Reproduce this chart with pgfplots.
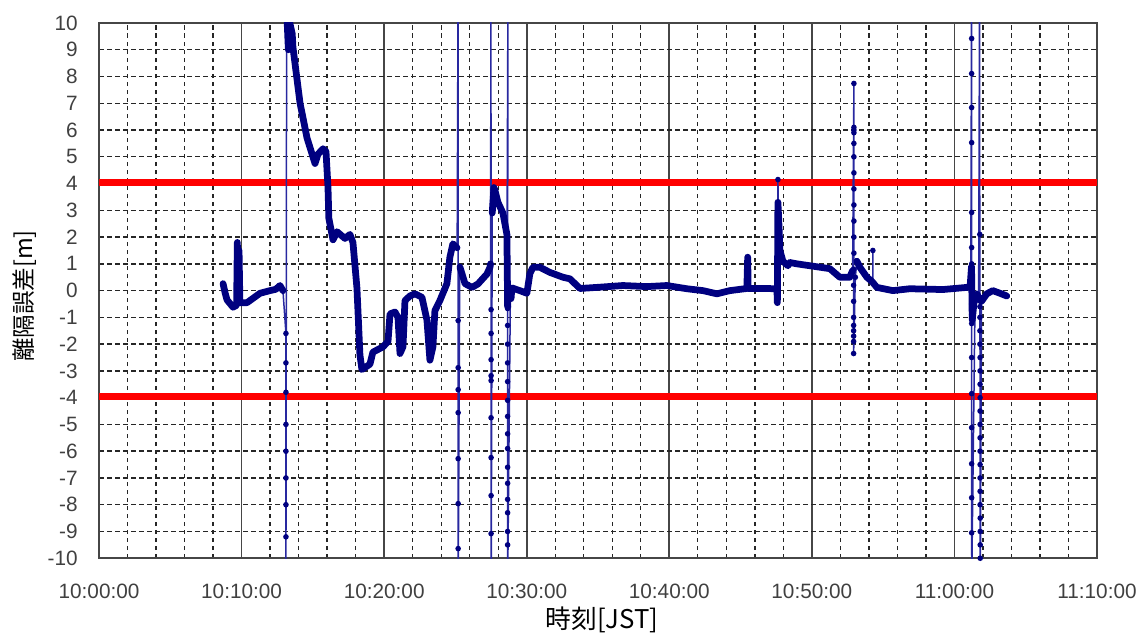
\documentclass[border=0pt]{standalone}
\usepackage{pgfplots}
\pgfplotsset{compat=1.18}
\usepackage{fontspec}
\setmainfont{Liberation Sans}
\newfontfamily\jp{Noto Sans CJK JP}
\definecolor{trace}{RGB}{0,0,128}
\definecolor{spikeblue}{RGB}{40,40,160}
\definecolor{gridgray}{RGB}{70,70,70}

\begin{document}
\begin{tikzpicture}
\begin{axis}[
    name=ax,
    scale only axis,
    width=399pt, height=214pt,
    xmin=0, xmax=70, ymin=-10, ymax=10,
    xtick={0,10,...,70},
    xticklabels={10:00:00,10:10:00,10:20:00,10:30:00,10:40:00,10:50:00,11:00:00,11:10:00},
    minor x tick num=4,
    ytick={-10,-9,...,10},
    extra y ticks={0},
    extra y tick labels={},
    extra y tick style={grid=major, major grid style={gridgray, solid, line width=0.6pt}},
    major tick length=0pt, minor tick length=0pt,
    xmajorgrids, xminorgrids, ymajorgrids,
    x grid style={gridgray, solid, line width=0.65pt},
    minor x grid style={black!85, dash pattern=on 1.8pt off 1.4pt, line width=0.55pt},
    y grid style={black!85, dash pattern=on 2pt off 1.2pt, line width=0.55pt},
    axis line style={gridgray, line width=0.65pt},
    tick label style={font=\fontsize{8.3}{10}\selectfont, text=black!75},
    /pgf/number format/assume math mode=true,
    xticklabel style={anchor=center, yshift=-13.4pt},
    yticklabel style={xshift=-5pt},
    xlabel={\jp 時刻[JST]},
    ylabel={\jp 離隔誤差[m]},
    xlabel style={font=\fontsize{10.3}{12}\selectfont, at={(axis description cs:0.504,-0.1159)}, anchor=center},
    ylabel style={font=\fontsize{9.4}{12}\selectfont, at={(axis description cs:-0.075,0.49)}, anchor=center},
    unbounded coords=jump,
    clip=true,
]
% limits
\addplot[red, line width=2.8pt] coordinates {(0,4.05) (70,4.05)};
\addplot[red, line width=2.8pt] coordinates {(0,-3.95) (70,-3.95)};

% thin spikes with samples
\addplot[spikeblue, line width=0.6pt, mark=*, mark size=0.8pt, mark options={trace}] coordinates {
 (12.90,0.0) (13.11,-1.6) (13.11,-2.7) (13.11,-3.8) (13.11,-5.0) (13.11,-6.0)
 (13.11,-7.0) (13.11,-8.0) (13.11,-9.2) (13.11,-10.6) (13.16,10.6)
 (nan,nan)
 (25.12,1.6) (25.18,10.6) (25.19,-1.12) (25.19,-2.88) (25.19,-3.7) (25.19,-4.56)
 (25.19,-6.28) (25.19,-7.96) (25.19,-9.64) (25.2,-10.6) (25.30,0.9)
 (nan,nan)
 (27.46,1.0) (27.49,10.6) (27.50,-0.71) (27.50,-1.6) (27.50,-2.58) (27.50,-3.18)
 (27.50,-3.36) (27.50,-4.75) (27.50,-6.24) (27.50,-7.66) (27.50,-9.08) (27.51,-10.6) (27.58,2.9)
 (nan,nan)
 (28.62,2.0) (28.68,10.6) (28.66,-0.67) (28.66,-1.3) (28.66,-2.0) (28.66,-2.7)
 (28.66,-3.4) (28.66,-4.1) (28.66,-4.7) (28.66,-5.35) (28.66,-5.9) (28.66,-6.6)
 (28.66,-7.2) (28.66,-7.8) (28.66,-8.3) (28.66,-9.0) (28.66,-9.5) (28.67,-10.6) (28.85,-0.3)
 (nan,nan)
 (47.60,0.1) (47.62,4.15) (47.64,3.2)
 (nan,nan)
 (52.86,0.75) (52.95,7.74) (52.95,6.1) (52.95,6.0) (52.95,5.9) (52.95,5.5) (52.95,5.0)
 (52.95,4.4) (52.95,3.8) (52.95,3.2) (52.95,2.6) (52.95,2.0) (52.95,1.4) (52.93,0.8)
 (52.93,0.2) (52.93,-0.4) (52.93,-1.0) (52.93,-1.3) (52.93,-1.5) (52.93,-1.7)
 (52.93,-1.9) (52.93,-2.35) (53.05,0.5) (53.16,1.1)
 (nan,nan)
 (54.28,0.3) (54.28,1.5)
 (nan,nan)
 (61.15,0.2) (61.20,10.6) (61.21,9.42) (61.21,8.11) (61.21,6.84) (61.21,5.53)
 (61.21,2.92) (61.21,1.61) (61.21,1.0) (61.21,0.6) (61.21,-0.5) (61.21,-0.9)
 (61.21,-1.23) (61.21,-2.5) (61.21,-3.85) (61.21,-5.12) (61.21,-6.47) (61.21,-7.74)
 (61.21,-9.05) (61.22,-10.6) (61.45,-0.3)
 (nan,nan)
 (61.70,-0.2) (61.76,10.6) (61.78,2.1) (61.79,-0.6) (61.79,-1.0) (61.79,-1.5)
 (61.79,-2.0) (61.80,-2.5) (61.80,-3.0) (61.80,-3.5) (61.80,-4.0) (61.80,-4.5)
 (61.80,-5.0) (61.80,-5.5) (61.80,-6.0) (61.80,-6.5) (61.80,-7.0) (61.80,-7.5)
 (61.80,-8.0) (61.81,-8.5) (61.81,-9.0) (61.81,-9.5) (61.81,-10.0) (61.82,-10.6) (61.90,-0.4)
};

% main trace
\addplot[trace, line width=2.7pt, line join=round, line cap=round] coordinates {
 (8.70,0.26) (8.85,-0.1) (8.98,-0.35) (9.40,-0.62) (9.65,-0.55) (9.70,1.8)
 (9.76,-0.2) (9.82,1.5) (9.88,-0.45) (10.38,-0.45) (10.90,-0.25) (11.29,-0.1)
 (11.99,0.0) (12.40,0.05) (12.69,0.19) (12.90,0.0)
 (nan,nan)
 (13.20,10.0) (13.28,9.0) (13.38,10.0) (13.55,9.6) (13.60,9.1) (14.10,7.0)
 (14.59,5.7) (15.15,4.75) (15.36,5.1) (15.71,5.3) (15.92,5.2) (16.06,3.85)
 (16.12,2.7) (16.41,1.9) (16.69,2.2) (17.25,1.95) (17.60,2.1) (17.81,1.8)
 (18.09,0.1) (18.30,-2.4) (18.44,-2.95) (19.00,-2.75) (19.21,-2.3) (19.92,-2.1)
 (20.27,-1.9) (20.41,-0.87) (20.76,-0.8) (20.97,-1.0) (21.11,-2.35) (21.32,-2.1)
 (21.46,-0.37) (21.81,-0.2) (22.16,-0.12) (22.65,-0.25) (23.00,-1.1) (23.21,-2.6)
 (23.42,-2.1) (23.56,-0.75) (23.91,-0.37) (24.40,0.26) (24.61,1.25) (24.82,1.75)
 (25.11,1.6)
 (nan,nan)
 (25.32,0.87) (25.67,0.26) (26.16,0.12) (26.58,0.25) (27.21,0.62) (27.42,0.87) (27.46,1.0)
 (nan,nan)
 (27.58,2.9) (27.63,3.3) (27.70,3.85) (27.77,3.75) (27.98,3.3) (28.33,2.9) (28.61,2.1)
 (28.66,-0.6)
 (nan,nan)
 (28.90,-0.3) (28.96,0.1) (29.52,0.0) (30.01,-0.1) (30.22,0.63) (30.43,0.87)
 (30.93,0.87) (31.63,0.68) (32.54,0.5) (33.03,0.44) (33.73,0.08) (34.92,0.12)
 (36.75,0.19) (38.43,0.15) (39.83,0.19) (41.23,0.07) (42.36,0.0) (43.34,-0.12)
 (44.25,0.0) (45.44,0.08) (45.50,1.25) (45.53,0.08) (46.56,0.08) (47.55,0.07)
 (47.58,-0.45) (47.62,3.3) (47.70,2.35) (47.76,1.5) (47.97,1.1) (48.32,0.93)
 (48.46,1.05) (48.95,1.0) (49.86,0.93) (51.26,0.82) (51.96,0.5) (52.66,0.5) (52.86,0.75)
 (nan,nan)
 (53.16,1.1) (53.37,0.87) (53.86,0.5) (54.20,0.35) (54.56,0.12) (55.68,0.0)
 (56.87,0.07) (59.19,0.04) (60.87,0.12) (61.10,0.15) (61.20,0.9) (61.25,-1.1)
 (61.40,-0.3) (61.57,-0.12) (61.78,-0.35) (61.90,-0.4) (62.27,-0.12) (62.69,0.0)
 (63.20,-0.1) (63.67,-0.2)
};
\end{axis}
\pgfresetboundingbox
\useasboundingbox ([xshift=-39.6pt,yshift=-29.6pt]ax.south west) rectangle ([xshift=16pt,yshift=9.2pt]ax.north east);
\end{tikzpicture}
\end{document}
